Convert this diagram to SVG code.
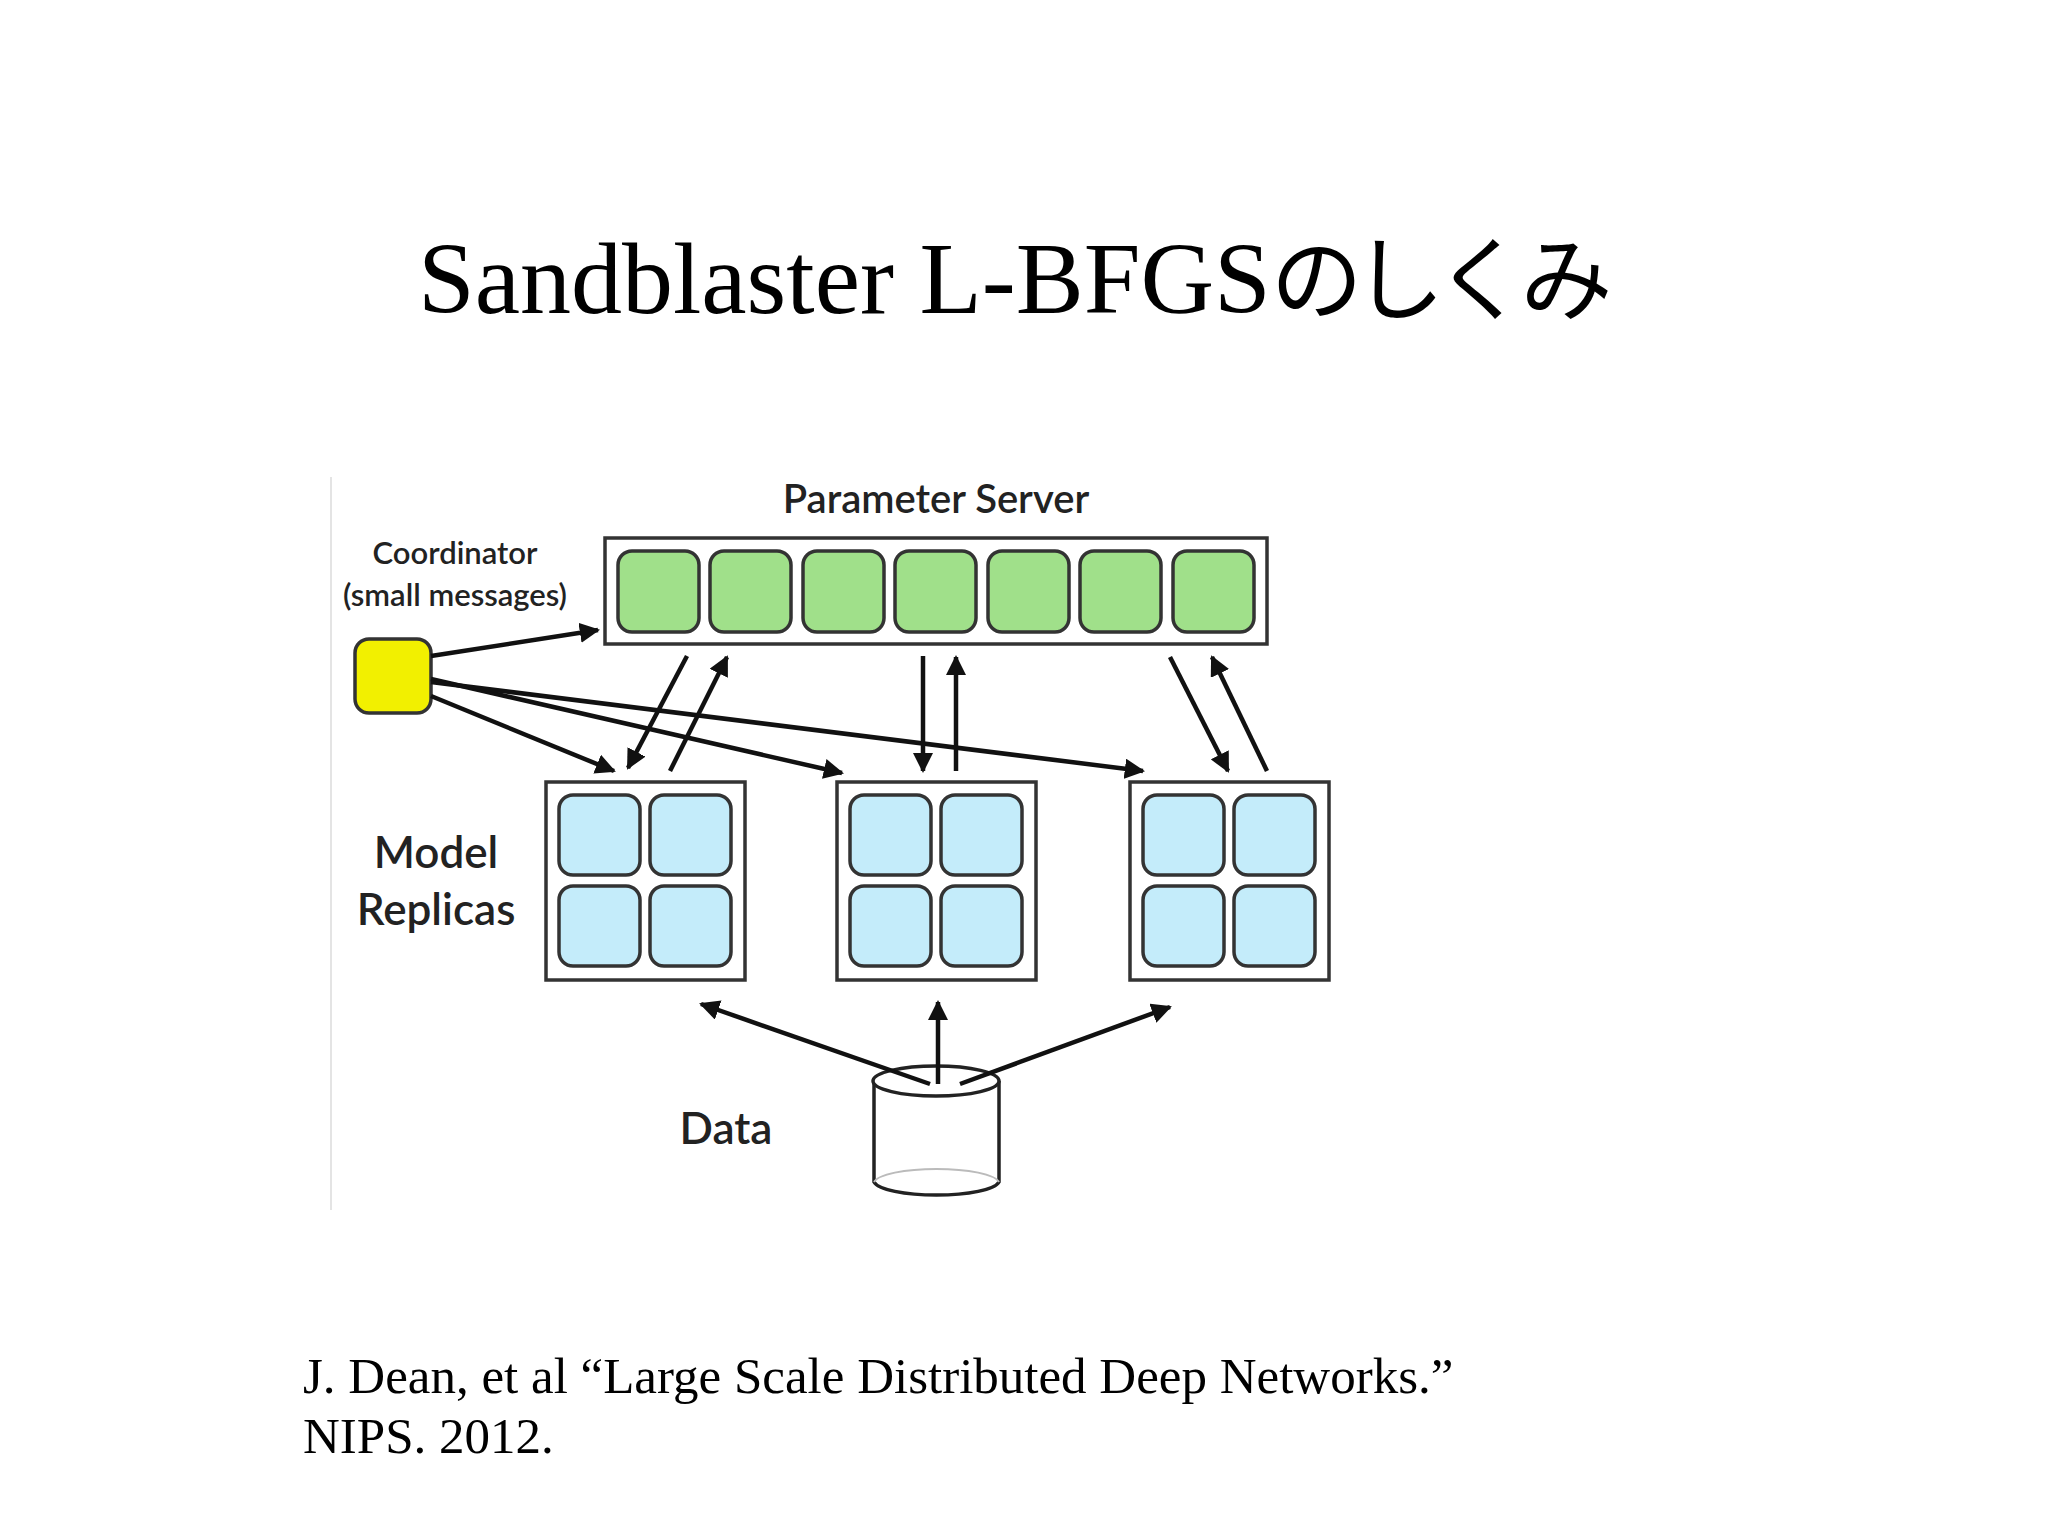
<svg xmlns="http://www.w3.org/2000/svg" width="2048" height="1536" viewBox="0 0 2048 1536">
<defs>
<style>
.lbl{font-family:Lato,"Open Sans",sans-serif;fill:#222;text-anchor:middle;font-weight:600}
.ser{font-family:"Liberation Serif",serif;fill:#000}
.box{fill:#fff;stroke:#333;stroke-width:3.5}
.g{fill:#a0e08a;stroke:#333;stroke-width:3.5}
.b{fill:#c4ecfa;stroke:#333;stroke-width:3.5}
.c{stroke:#111;stroke-width:4.5;fill:none;marker-end:url(#ah)}
</style>
<marker id="ah" viewBox="0 0 10 10" refX="9" refY="5" markerWidth="4.5" markerHeight="4.5" orient="auto"><path d="M0,0L10,5L0,10z" fill="#111"/></marker>
</defs>
<rect width="2048" height="1536" fill="#fff"/>
<text class="ser" x="418" y="313" font-size="102">Sandblaster L-BFGS<tspan font-family="'Noto Sans CJK JP',sans-serif" font-size="92" letter-spacing="-10">のしくみ</tspan></text>
<line x1="331" y1="477" x2="331" y2="1210" stroke="#e4e4e4" stroke-width="2"/>
<g id="ps">
<text class="lbl" x="936" y="513" font-size="40">Parameter Server</text>
<rect class="box" x="605" y="538" width="662" height="106"/>
<rect class="g" x="618" y="551" width="81" height="81" rx="14"/>
<rect class="g" x="710" y="551" width="81" height="81" rx="14"/>
<rect class="g" x="803" y="551" width="81" height="81" rx="14"/>
<rect class="g" x="895" y="551" width="81" height="81" rx="14"/>
<rect class="g" x="988" y="551" width="81" height="81" rx="14"/>
<rect class="g" x="1080" y="551" width="81" height="81" rx="14"/>
<rect class="g" x="1173" y="551" width="81" height="81" rx="14"/>
</g>
<g id="coord">
<text class="lbl" x="455" y="564" font-size="31">Coordinator</text>
<text class="lbl" x="455" y="606" font-size="31">(small messages)</text>
<rect x="355" y="639" width="76" height="74" rx="14" fill="#f2f000" stroke="#333" stroke-width="3.5"/>
</g>
<text class="lbl" x="436" y="868" font-size="44">Model</text>
<text class="lbl" x="436" y="925" font-size="44">Replicas</text>
<g id="r1">
<rect class="box" x="546" y="782" width="199" height="198"/>
<rect class="b" x="559" y="795" width="81" height="80" rx="14"/><rect class="b" x="650" y="795" width="81" height="80" rx="14"/>
<rect class="b" x="559" y="886" width="81" height="80" rx="14"/><rect class="b" x="650" y="886" width="81" height="80" rx="14"/>
</g>
<g id="r2">
<rect class="box" x="837" y="782" width="199" height="198"/>
<rect class="b" x="850" y="795" width="81" height="80" rx="14"/><rect class="b" x="941" y="795" width="81" height="80" rx="14"/>
<rect class="b" x="850" y="886" width="81" height="80" rx="14"/><rect class="b" x="941" y="886" width="81" height="80" rx="14"/>
</g>
<g id="r3">
<rect class="box" x="1130" y="782" width="199" height="198"/>
<rect class="b" x="1143" y="795" width="81" height="80" rx="14"/><rect class="b" x="1234" y="795" width="81" height="80" rx="14"/>
<rect class="b" x="1143" y="886" width="81" height="80" rx="14"/><rect class="b" x="1234" y="886" width="81" height="80" rx="14"/>
</g>
<g id="data">
<text class="lbl" x="726" y="1144" font-size="44">Data</text>
<path d="M874,1081 V1182 A63,15 0 0 0 999,1182 V1081" fill="#fff" stroke="#222" stroke-width="3.5"/>
<path d="M874,1182 A63,15 0 0 1 999,1182" fill="none" stroke="#bbb" stroke-width="2"/>
<ellipse cx="936" cy="1081" rx="63" ry="15" fill="#fff" stroke="#222" stroke-width="3.5"/>
</g>
<g id="connectors">
<line class="c" x1="431" y1="656" x2="598" y2="630"/>
<line class="c" x1="431" y1="696" x2="614" y2="771"/>
<line class="c" x1="431" y1="679" x2="842" y2="773"/>
<line class="c" x1="431" y1="682" x2="1143" y2="771"/>
<line class="c" x1="687" y1="656" x2="628" y2="768"/>
<line class="c" x1="670" y1="771" x2="727" y2="657"/>
<line class="c" x1="923" y1="656" x2="923" y2="771"/>
<line class="c" x1="956" y1="771" x2="956" y2="657"/>
<line class="c" x1="1170" y1="657" x2="1228" y2="771"/>
<line class="c" x1="1267" y1="771" x2="1212" y2="657"/>
<line class="c" x1="930" y1="1084" x2="701" y2="1004"/>
<line class="c" x1="938" y1="1084" x2="938" y2="1002"/>
<line class="c" x1="960" y1="1084" x2="1170" y2="1007"/>
</g>
<text class="ser" x="303" y="1393" font-size="51">J. Dean, et al “Large Scale Distributed Deep Networks.”</text>
<text class="ser" x="303" y="1453" font-size="51">NIPS. 2012.</text>
</svg>
